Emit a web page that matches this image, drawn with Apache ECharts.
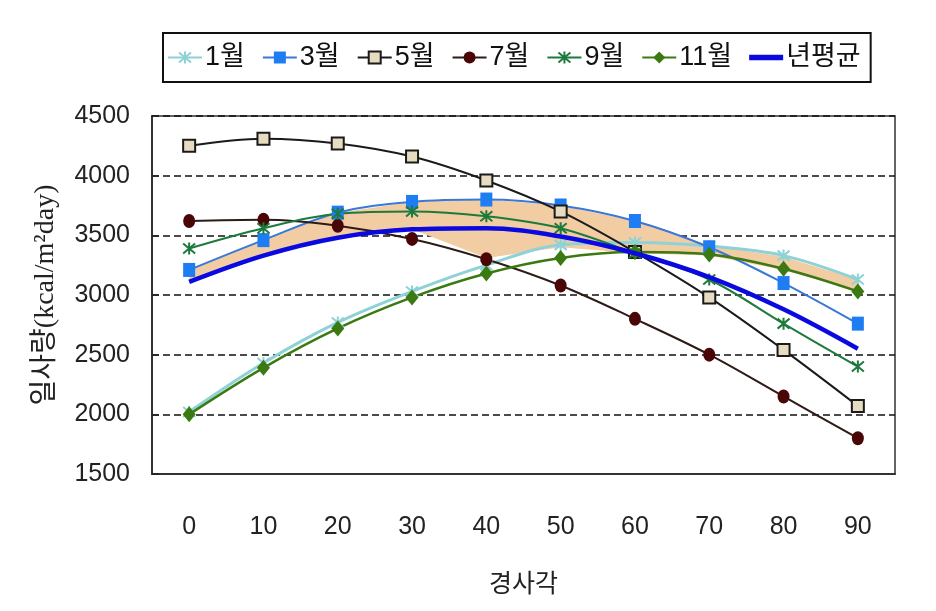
<!DOCTYPE html>
<html>
<head>
<meta charset="utf-8">
<script src="https://cdn.jsdelivr.net/npm/echarts@6/dist/echarts.min.js"></script>
<style>html,body{margin:0;padding:0;background:#fff}#c{width:936px;height:611px}</style>
</head>
<body>
<div id="c"></div>
<script>
var categories = ['0','10','20','30','40','50','60','70','80','90'];
var jan = [2020, 2430, 2770, 3030, 3250, 3420, 3440, 3410, 3330, 3130];
var mar = [3210, 3460, 3690, 3780, 3800, 3750, 3620, 3400, 3100, 2760];
var may = [4250, 4310, 4270, 4160, 3960, 3700, 3360, 2980, 2540, 2070];
var jul = [3620, 3630, 3580, 3470, 3300, 3080, 2800, 2500, 2150, 1800];
var sep = [3390, 3560, 3680, 3700, 3660, 3560, 3350, 3130, 2760, 2400];
var nov = [2000, 2390, 2720, 2980, 3180, 3310, 3360, 3340, 3220, 3030];
var avg = [3110, 3330, 3480, 3550, 3560, 3490, 3350, 3150, 2880, 2550];
var bandLow  = [3110, 3330, 3480, 3550, 3310, 3400, 3350, 3330, 3210, 3030];
var bandHigh = [3210, 3460, 3690, 3780, 3800, 3750, 3620, 3420, 3320, 3130];
var yTicks = {min: 1500, max: 4500, step: 500};

var FONT = '"Liberation Sans Narrow", "Arial Narrow", "Liberation Sans", "Noto Sans CJK KR", sans-serif';
var asterisk = 'path://M0,0 L10,10 M10,0 L0,10 M5,-1 L5,11';

function lineSeries(name, data, color, opts) {
  return {
    name: name, type: 'line', data: data, smooth: 0.35, z: 5,
    symbol: opts.symbol, symbolSize: opts.size,
    lineStyle: {color: opts.lineColor || color, width: opts.width || 2},
    itemStyle: {color: opts.fill || color, borderColor: opts.border || color, borderWidth: opts.bw || 0},
    emphasis: {disabled: true}
  };
}

var bandDiff = bandHigh.map(function (v, i) { return v - bandLow[i]; });

var chart = echarts.init(document.getElementById('c'), null, {renderer: 'canvas'});
chart.setOption({
  animation: false,
  backgroundColor: '#fff',
  grid: {left: 152, right: 41, top: 116, bottom: 137, show: true, borderColor: '#333', borderWidth: 1.5, backgroundColor: 'transparent'},
  legend: {
    data: ['1월', '3월', '5월', '7월', '9월', '11월',
           {name: '년평균', icon: 'path://M0,0 L32,0 L32,5 L0,5 Z'}],
    left: 163, top: 33,
    borderColor: '#111', borderWidth: 2,
    padding: [11, 10, 11, 4],
    itemGap: 17, itemWidth: 34, itemHeight: 15,
    textStyle: {fontFamily: FONT, fontSize: 27, color: '#111', padding: [0, 0, 0, -2]}
  },
  xAxis: {
    type: 'category', data: categories, boundaryGap: true,
    axisLine: {lineStyle: {color: '#333', width: 2}},
    axisTick: {inside: true, length: 12, lineStyle: {color: '#222', width: 1.5}},
    axisLabel: {fontFamily: FONT, fontSize: 25, color: '#222', margin: 41},
    name: '경사각', nameLocation: 'middle', nameGap: 96,
    nameTextStyle: {fontFamily: '"Noto Sans CJK KR", sans-serif', fontSize: 25, color: '#222'}
  },
  yAxis: {
    type: 'value', min: yTicks.min, max: yTicks.max, interval: yTicks.step,
    axisLine: {show: true, lineStyle: {color: '#333', width: 2}},
    axisTick: {show: true, inside: true, length: 7, lineStyle: {color: '#222', width: 1.5}},
    axisLabel: {fontFamily: FONT, fontSize: 25, color: '#222', margin: 22,
                formatter: function (v) { return String(v); }},
    splitLine: {show: true, lineStyle: {color: '#111', type: [7, 4], width: 1.5}},
    name: '일사량(kcal/m²day)', nameLocation: 'middle', nameGap: 92,
    nameTextStyle: {fontFamily: '"Liberation Serif", "Noto Sans CJK KR", serif', fontSize: 28, color: '#222'}
  },
  series: [
    {name: 'bandBase', type: 'line', stack: 'band', data: bandLow, symbol: 'none', z: 1,
     lineStyle: {opacity: 0}, silent: true},
    {name: 'bandFill', type: 'line', stack: 'band', data: bandDiff, symbol: 'none', z: 1,
     lineStyle: {opacity: 0}, areaStyle: {color: 'rgb(242,204,162)', opacity: 1}, silent: true},
    lineSeries('1월', jan, '#8ed2d6', {symbol: asterisk, size: 12, width: 3, bw: 2}),
    lineSeries('3월', mar, '#1e7df2', {symbol: 'rect', size: [12, 14], lineColor: '#3a78d8'}),
    lineSeries('5월', may, '#1a1a1a', {symbol: 'rect', size: 12, fill: '#e7dcc0', border: '#1a1a1a', bw: 2}),
    lineSeries('7월', jul, '#4a0606', {symbol: 'circle', size: [12, 14], lineColor: '#2e1a16'}),
    lineSeries('9월', sep, '#1d7a3c', {symbol: asterisk, size: 12, bw: 2}),
    lineSeries('11월', nov, '#3b7a12', {symbol: 'diamond', size: [13, 16], width: 2.5}),
    {name: '년평균', type: 'line', data: avg, smooth: 0.35, symbol: 'none', z: 6,
     lineStyle: {color: '#0a0ae0', width: 4.5}, itemStyle: {color: '#0a0ae0'}}
  ]
});
</script>
</body>
</html>
